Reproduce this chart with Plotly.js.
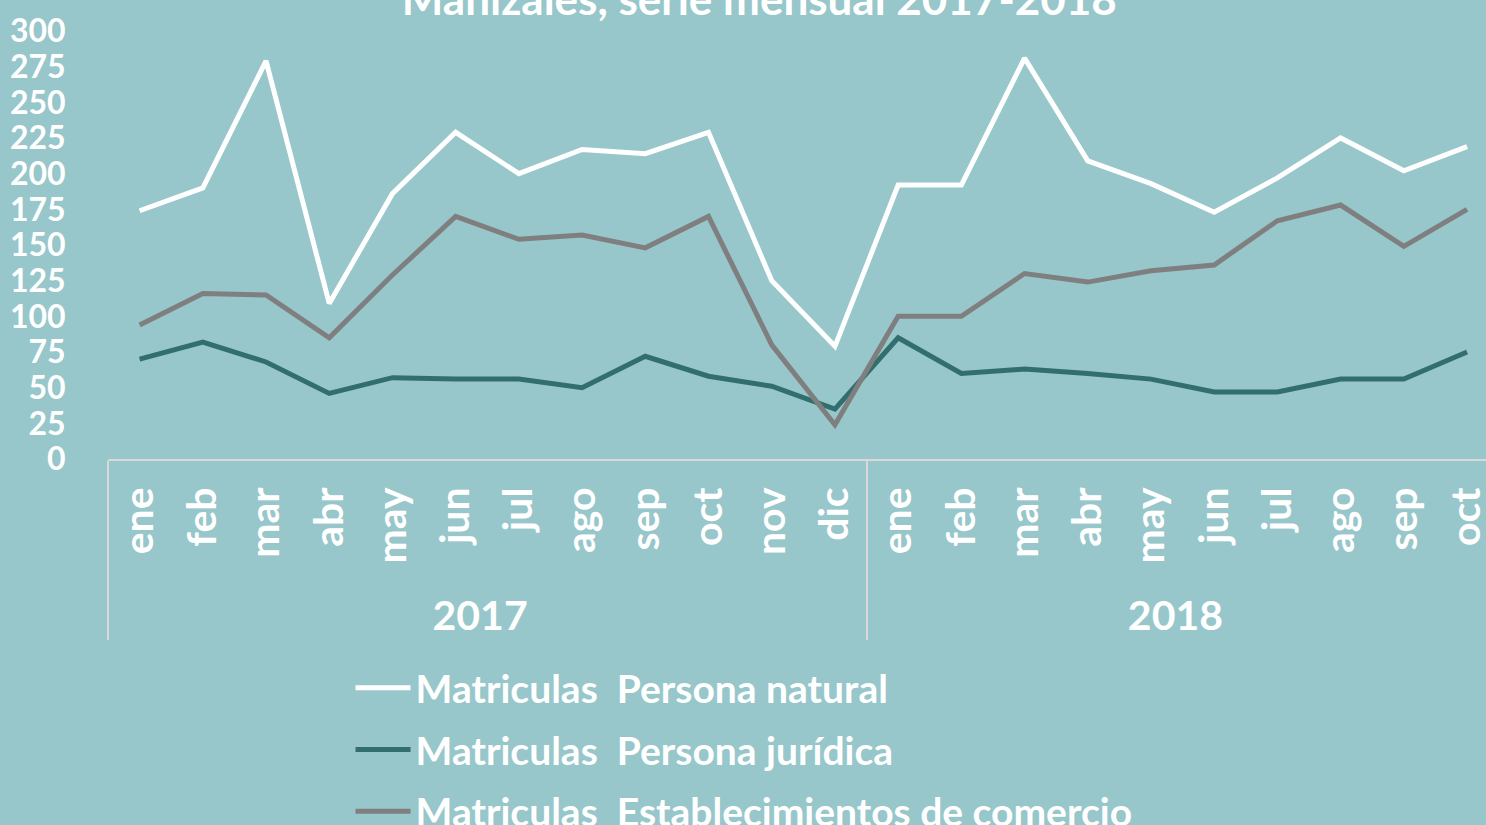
<!DOCTYPE html>
<html>
<head>
<meta charset="utf-8">
<script src="https://cdn.plot.ly/plotly-3.0.1.min.js"></script>
<style>html,body{margin:0;padding:0;background:#97C7CA;}#chart{width:1486px;height:825px;}</style>
</head>
<body>
<div id="chart"></div>
<script>
const years = ["2017","2017","2017","2017","2017","2017","2017","2017","2017","2017","2017","2017",
               "2018","2018","2018","2018","2018","2018","2018","2018","2018","2018"];
const months = ["ene","feb","mar","abr","may","jun","jul","ago","sep","oct","nov","dic",
                "ene","feb","mar","abr","may","jun","jul","ago","sep","oct"];
const personaNatural = [174,190,279,109,186,229,200,217,214,229,125,79,
                        192,192,281,209,193,173,197,225,202,219];
const personaJuridica = [70,82,68,46,57,56,56,50,72,58,51,35,
                         85,60,63,60,56,47,47,56,56,75];
const establecimientos = [94,116,115,85,129,170,154,157,148,170,80,24,
                          100,100,130,124,132,136,167,178,149,175];
const seriesNames = ["Matriculas  Persona natural","Matriculas  Persona jurídica","Matriculas  Establecimientos de comercio"];
const titleText = "Manizales, serie mensual 2017-2018";

const FONT = "Lato, 'Open Sans', sans-serif";
const x = [years, months];
const mk = (name, y, color, g) => ({
  type: "scatter", mode: "lines", name: name, x: x, y: y,
  line: {color: color, width: 5}, legendgroup: g
});
const data = [
  mk(seriesNames[0], personaNatural, "#FFFFFF", "a"),
  mk(seriesNames[1], personaJuridica, "#336E6E", "b"),
  mk(seriesNames[2], establecimientos, "#7F7F7F", "c")
];
const layout = {
  width: 1486, height: 825,
  paper_bgcolor: "#97C7CA", plot_bgcolor: "#97C7CA",
  margin: {l: 108, r: 0, t: 31, b: 366},
  font: {family: FONT, color: "#FFFFFF"},
  title: {text: "<b>" + titleText + "</b>", x: 0.511, xanchor: "center", y: 0.982, yanchor: "bottom", yref: "container",
          font: {size: 44, color: "#FFFFFF", family: FONT}},
  xaxis: {
    type: "multicategory", range: [-0.5, 21.3], automargin: false,
    showline: true, linecolor: "#D9D9D9", linewidth: 2,
    showgrid: false, zeroline: false,
    tickangle: -90, ticklabelstandoff: 10,
    tickfont: {size: 41, color: "#FFFFFF", family: FONT, weight: "bold"},
    showdividers: true, dividercolor: "#D9D9D9", dividerwidth: 2,
    ticks: ""
  },
  yaxis: {
    range: [0, 300], dtick: 25, tick0: 0, automargin: false,
    showgrid: false, zeroline: false, showline: false,
    ticks: "outside", ticklen: 35, tickcolor: "rgba(0,0,0,0)",
    tickfont: {size: 32, color: "#FFFFFF", family: FONT, weight: "bold"}
  },
  showlegend: true,
  legend: {
    orientation: "v", x: 0.176, xanchor: "left", xref: "paper",
    y: 0.205, yanchor: "top", yref: "container",
    bgcolor: "rgba(0,0,0,0)", tracegroupgap: 8, itemwidth: 55,
    font: {size: 39, color: "#FFFFFF", family: FONT, weight: "bold"}
  }
};
Plotly.newPlot("chart", data, layout, {displayModeBar: false, staticPlot: true});
</script>
</body>
</html>
